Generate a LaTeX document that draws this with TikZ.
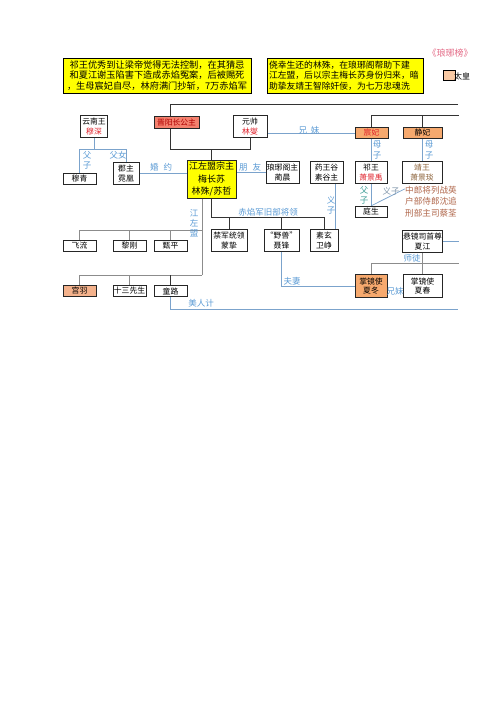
\documentclass[tikz,border=0pt]{standalone}
\usepackage{fontspec}
\setmainfont{Noto Sans CJK SC}
\usepackage{xcolor}
\usetikzlibrary{calc,positioning,backgrounds}
\definecolor{notefill}{HTML}{FFFF00}
\definecolor{jinyangfill}{HTML}{F4816E}
\definecolor{orangefill}{HTML}{F6A96E}
\definecolor{gongyufill}{HTML}{F4B28C}
\definecolor{palefill}{HTML}{F8C9A4}
\definecolor{namered}{HTML}{E0202A}
\definecolor{namedark}{HTML}{B00000}
\definecolor{brownname}{HTML}{8C6239}
\definecolor{allybrown}{HTML}{B0664A}
\definecolor{titlepink}{HTML}{E46A86}
\definecolor{relblue}{HTML}{5B9BD5}
\definecolor{rellinec}{HTML}{7BA3CC}
\definecolor{relgray}{HTML}{7F95AA}
\definecolor{tealc}{HTML}{3F9E97}
\definecolor{grayline}{HTML}{8C8C8C}

\begin{document}
\begin{tikzpicture}[x=1pt, y=-1pt,
  note/.style={draw=black, line width=0.8pt, fill=notefill, inner xsep=2pt, inner ysep=0pt, minimum height=35pt},
  pbox/.style={draw=black!85, line width=0.7pt, fill=white, inner sep=0pt, align=center, minimum width=#1, font=\fontsize{7.8}{9.6}\selectfont},
  pbox/.default=33pt,
  oneline/.style={minimum height=11.5pt},
  twoline/.style={minimum height=22.5pt},
  famline/.style={draw=black!80, line width=0.8pt},
  grpline/.style={draw=grayline, line width=0.8pt},
  relline/.style={draw=rellinec, line width=0.7pt},
  rel/.style={text=relblue, inner sep=0pt, align=center, font=\fontsize{8.5}{10.2}\selectfont},
]
\useasboundingbox (0,0) rectangle (500,707);

% story notes and title
\node[note, text width=184pt, align=center, font=\fontsize{9.2}{10.6}\selectfont] (story1) at (157,75.5) {祁王优秀到让梁帝觉得无法控制，在其猜忌\\和夏江谢玉陷害下造成赤焰冤案，后被赐死\\，生母宸妃自尽，林府满门抄斩，7万赤焰军};
\node[note, text width=152pt, align=left, font=\fontsize{8.8}{10.6}\selectfont] (story2) at (345,75.5) {侥幸生还的林殊，在琅琊阁帮助下建\\江左盟，后以宗主梅长苏身份归来，暗\\助挚友靖王智除奸佞，为七万忠魂洗};
\node[text=titlepink, font=\fontsize{9}{10}\selectfont] (title) at (450,53) {《琅琊榜》};
\node[draw=black, line width=0.6pt, fill=palefill, minimum width=12pt, minimum height=10pt, inner sep=0pt] (legendbox) at (449,75) {};
\node[inner sep=0pt, font=\fontsize{8}{9}\selectfont] (legendtext) at (462,76) {太皇};

% first generation
\node[pbox=27pt, twoline] (yunnan) at (94,126.5) {云南王\\\textcolor{namered}{穆深}};
\node[pbox=45pt, oneline, fill=jinyangfill] (jinyang) at (176.5,122.5) {\textcolor{namedark}{晋阳长公主}};
\node[pbox=34pt, twoline] (linxie) at (250,126.5) {元帅\\\textcolor{namered}{林燮}};
\node[pbox=33pt, oneline, fill=orangefill] (chenfei) at (371.5,133) {\textcolor{namered}{宸妃}};
\node[pbox=39pt, oneline, fill=orangefill] (jingfei) at (422.5,133) {静妃};

% second generation
\node[pbox, oneline] (muqing) at (79.5,179) {穆青};
\node[pbox=26pt, twoline] (nihuang) at (126,173.5) {郡主\\霓凰};
\node[pbox=49pt, minimum height=38pt, fill=notefill, font=\fontsize{9}{12.3}\selectfont] (meichangsu) at (211.5,179) {江左盟宗主\\梅长苏\\林殊/苏哲};
\node[pbox, twoline] (linchen) at (282.5,172.5) {琅琊阁主\\蔺晨};
\node[pbox, twoline] (sugu) at (326.5,172.5) {药王谷\\素谷主};
\node[pbox=32pt, twoline] (qiwang) at (371,172.5) {祁王\\\textcolor{namered}{萧景禹}};
\node[pbox=40pt, twoline] (jingwang) at (422,172.5) {\textcolor{brownname}{靖王}\\\textcolor{brownname}{萧景琰}};
\node[pbox=32pt, oneline] (tingsheng) at (371,212) {庭生};
\node[text=allybrown, align=left, inner sep=0pt, font=\fontsize{8.6}{11.5}\selectfont] (allies) at (431,201.5) {中郎将列战英\\户部侍郎沈追\\刑部主司蔡荃};

% jiangzuo and chiyan
\node[pbox, oneline] (feiliu) at (79.5,246) {飞流};
\node[pbox, oneline] (ligang) at (129.5,246) {黎刚};
\node[pbox, oneline] (zhenping) at (170.5,246) {甄平};
\node[pbox=36pt, twoline] (mengzhi) at (229,240.5) {禁军统领\\蒙挚};
\node[pbox=35pt, twoline] (niefeng) at (281.5,240.5) {“野兽”\\聂锋};
\node[pbox=28pt, twoline] (weizheng) at (324,240.5) {素玄\\卫峥};
\node[pbox=40pt, twoline] (xiajiang) at (422.5,241.5) {悬镜司首尊\\夏江};
\node[pbox, oneline, fill=gongyufill] (gongyu) at (79.5,291) {宫羽};
\node[pbox, oneline] (shisan) at (129.5,291) {十三先生};
\node[pbox, oneline] (tonglu) at (170.5,291) {童路};
\node[pbox=32pt, twoline, fill=orangefill, line width=1pt] (xiadong) at (371,286) {掌镜使\\夏冬};
\node[pbox=39pt, twoline] (xiachun) at (422.5,286) {掌镜使\\夏春};

\coordinate (kingtop) at (458,104);
\coordinate (sistop) at (170,104);
\coordinate (kingwives) at (459,115);
\coordinate (couple) at (211,149);
\coordinate (ynbar) at (0,149);
\coordinate (jzmA) at (202,230);
\coordinate (jzmB) at (202,275);
\coordinate (cybar) at (0,217);
\coordinate (stbar) at (459,263);
\coordinate (mrjend) at (458,309);

\begin{scope}[on background layer]
\fill[white] (0,0) rectangle (500,707);
\draw[famline] (kingtop) -- (sistop) -- (sistop |- couple) -- (linxie.south |- couple) -- (linxie.south);
\draw[famline] (couple) -- (couple |- meichangsu.north);
\draw[famline] (chenfei.north) |- (kingwives);
\draw[famline] (jingfei.north) -- (jingfei.north |- kingwives);
\draw[relline] (yunnan.south) -- (yunnan.south |- ynbar);
\draw[relline] (muqing.north) |- (nihuang.north |- ynbar) -- (nihuang.north);
\draw[relline] (nihuang.east) -- (nihuang.east -| meichangsu.west);
\draw[relline] (linchen.west -| meichangsu.east) -- (linchen.west);
\draw[relline] (chenfei.west -| linxie.east) -- (chenfei.west);
\draw[relline] (chenfei.south) -- (chenfei.south |- qiwang.north);
\draw[relline] (jingfei.south) -- (jingfei.south |- jingwang.north);
\draw[relline] (qiwang.south) -- (tingsheng.north);
\draw[relline] (tingsheng.north) -- ([yshift=-3pt]allies.north west);
\draw[relline] ([xshift=-8pt]sugu.south east) -- ([xshift=-8pt]sugu.south east |- weizheng.north);
% jiangzuo members
\draw[grpline] (meichangsu.south -| jzmB) -- (jzmB);
\draw[grpline] (feiliu.north) |- (jzmA);
\draw[grpline] (ligang.north) -- (ligang.north |- jzmA);
\draw[grpline] (zhenping.north) -- (zhenping.north |- jzmA);
\draw[grpline] (gongyu.north) |- (jzmB);
\draw[grpline] (shisan.north) -- (shisan.north |- jzmB);
\draw[famline] (tonglu.north) -- (tonglu.north |- jzmB);
% chiyan officers
\draw[famline] (meichangsu.south) |- (weizheng.north |- cybar) -- (weizheng.north);
\draw[famline] (mengzhi.north) -- (mengzhi.north |- cybar);
\draw[famline] (niefeng.north) -- (niefeng.north |- cybar);
% xuanjing
\draw[relline] (niefeng.south) |- (xiadong.west);
\draw[grpline] (xiajiang.south) -- (xiachun.north);
\draw[grpline] (xiadong.north) |- (stbar);
\draw[relline] (xiajiang.east) -- (xiajiang.east -| stbar);
\draw[relline] (tonglu.south) |- (mrjend);
\end{scope}

% relation labels
\node[rel] (lbfuzi1) at (87,160) {父\\子};
\node[rel] (lbfunv) at (118,155) {父女};
\node[rel] (lbhunyue) at (161,167) {婚\hspace{5pt}约};
\node[rel] (lbpengyou) at (250,167) {朋\hspace{5pt}友};
\node[rel] (lbxiongmei1) at (309,130) {兄\hspace{4pt}妹};
\node[rel] (lbmuzi1) at (377,150) {母\\子};
\node[rel] (lbmuzi2) at (429,150) {母\\子};
\node[rel, text=tealc] (lbfuzi2) at (364,195) {父\\子};
\node[rel, text=relgray] (lbyizi1) at (391,191) {义子};
\node[rel] (lbyizi2) at (331,205) {义\\子};
\node[rel] (lbjzm) at (194,223) {江\\左\\盟};
\node[rel] (lbchiyan) at (268,212) {赤焰军旧部将领};
\node[rel] (lbshitu) at (412,258) {师徒};
\node[rel] (lbfuqi) at (292,281) {夫妻};
\node[rel] (lbxiongmei2) at (395,291) {兄妹};
\node[rel] (lbmeiren) at (201,303) {美人计};
\end{tikzpicture}
\end{document}
